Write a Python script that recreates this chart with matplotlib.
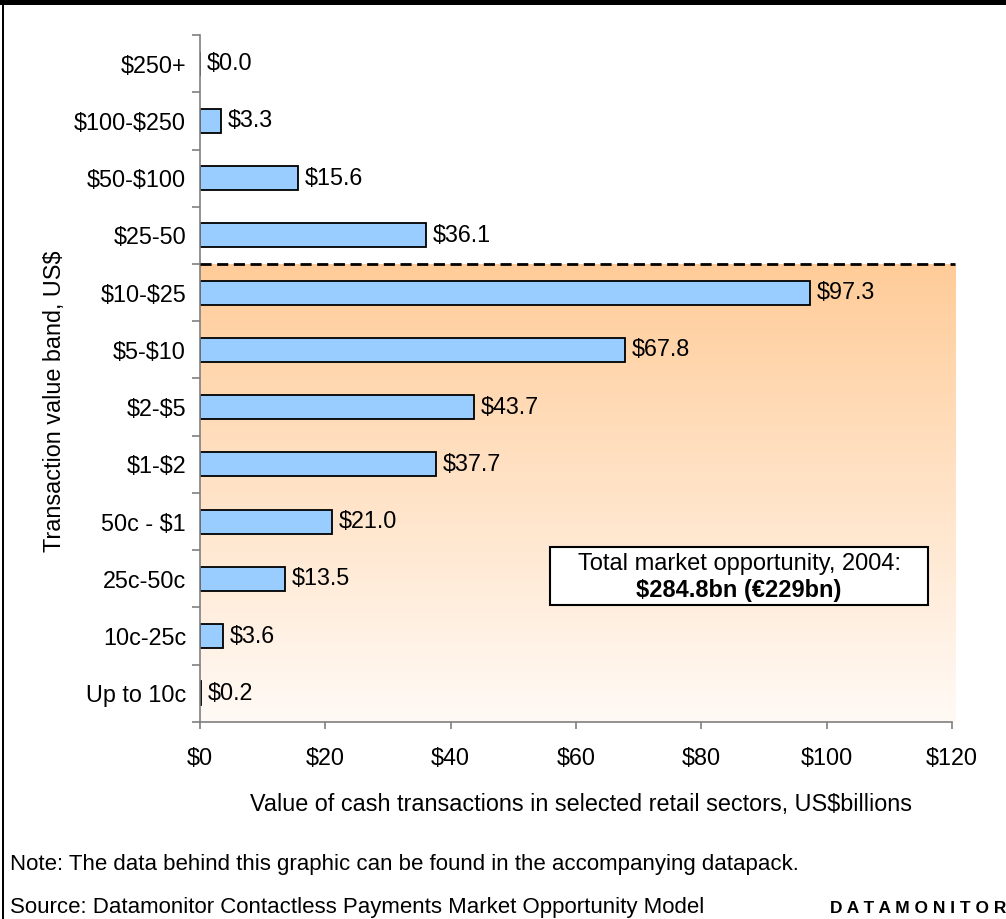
import numpy as np
import matplotlib.pyplot as plt
from matplotlib.colors import LinearSegmentedColormap
from matplotlib.patches import Rectangle

plt.rcParams['font.family'] = ['Liberation Sans', 'DejaVu Sans']
plt.rcParams['text.parse_math'] = False

# transaction value bands, top to bottom
bands = ['$250+', '$100-$250', '$50-$100', '$25-50', '$10-$25', '$5-$10',
         '$2-$5', '$1-$2', '50c - $1', '25c-50c', '10c-25c', 'Up to 10c']
values = [0.0, 3.3, 15.6, 36.1, 97.3, 67.8, 43.7, 37.7, 21.0, 13.5, 3.6, 0.2]
xticks = [0, 20, 40, 60, 80, 100, 120]

FS = 16.8

fig = plt.figure(figsize=(10.06, 9.19), dpi=100)
ax = fig.add_axes([0.1988, 0.2144, 0.7475, 0.7475])

n = len(bands)
y = np.arange(n)
ax.set_xlim(0, 120)
ax.set_ylim(n - 0.5, -0.5)

# shaded region below the $25 cut-off, fading from orange to white
cmap = LinearSegmentedColormap.from_list('fade', ['#FFCC99', '#FFFAF6'])
grad = np.linspace(0, 1, 256).reshape(-1, 1)
ax.imshow(grad, cmap=cmap, aspect='auto', extent=[0, 120.5, n - 0.5, 3.5],
          origin='upper', zorder=0, clip_on=False)
ax.plot([0, 120.5], [3.5, 3.5], color='black', lw=2, ls=(0, (4, 2)),
        clip_on=False, zorder=3)

ax.barh(y, values, height=0.42, color='#99CCFF', edgecolor='black',
        linewidth=1.3, zorder=2)
for yi, v in zip(y, values):
    ax.text(v + 1.1, yi, f'${v:.1f}', va='center', ha='left', fontsize=FS,
            zorder=4)

for s in ['top', 'right']:
    ax.spines[s].set_visible(False)
for s in ['left', 'bottom']:
    ax.spines[s].set_color('#7F7F7F')
    ax.spines[s].set_linewidth(1.2)

ax.set_yticks(y)
ax.set_yticklabels(bands, fontsize=FS)
ax.set_yticks(np.arange(-0.5, n, 1), minor=True)
ax.tick_params(axis='y', which='major', length=0, pad=10)
ax.tick_params(axis='y', which='minor', length=6, color='#7F7F7F', width=1.2)
ax.set_xticks(xticks)
ax.set_xticklabels([f'${t}' for t in xticks], fontsize=FS)
ax.tick_params(axis='x', length=5, color='#7F7F7F', width=1.2, pad=13)

fig.text(0.578, 1 - 811 / 919, 'Value of cash transactions in selected retail sectors, US$billions',
         ha='center', va='baseline', fontsize=FS)
fig.text(55 / 1006, 1 - 401 / 919, 'Transaction value band, US$', rotation=90,
         ha='center', va='center', fontsize=FS)

# total box
box_x0, box_x1 = 550 / 1006, 928 / 1006
box_y0, box_y1 = 1 - 605 / 919, 1 - 547 / 919
fig.patches.append(Rectangle((box_x0, box_y0), box_x1 - box_x0, box_y1 - box_y0,
                             transform=fig.transFigure, facecolor='white',
                             edgecolor='black', lw=1.5, zorder=5))
fig.text((box_x0 + box_x1) / 2, 1 - 564 / 919, 'Total market opportunity, 2004:',
         ha='center', va='center', fontsize=17, zorder=6)
fig.text((box_x0 + box_x1) / 2, 1 - 590 / 919, '$284.8bn (€229bn)',
         ha='center', va='center', fontsize=17, fontweight='bold', zorder=6)

# notes
fig.text(10 / 1006, 1 - 870 / 919,
         'Note: The data behind this graphic can be found in the accompanying datapack.',
         ha='left', va='baseline', fontsize=16)
fig.text(10 / 1006, 1 - 913 / 919,
         'Source: Datamonitor Contactless Payments Market Opportunity Model',
         ha='left', va='baseline', fontsize=16)
fig.text(1.0, 1 - 913 / 919, 'D A T A M O N I T O R', ha='right', va='baseline',
         fontsize=12.5, fontweight='bold')

# frame: heavy top bar and left rule
fig.patches.append(Rectangle((0, 1 - 5 / 919), 1, 5 / 919, transform=fig.transFigure,
                             facecolor='black', edgecolor='none'))
fig.patches.append(Rectangle((2 / 1006, 0), 2 / 1006, 1, transform=fig.transFigure,
                             facecolor='black', edgecolor='none'))

fig.savefig('out.png', dpi=100)
